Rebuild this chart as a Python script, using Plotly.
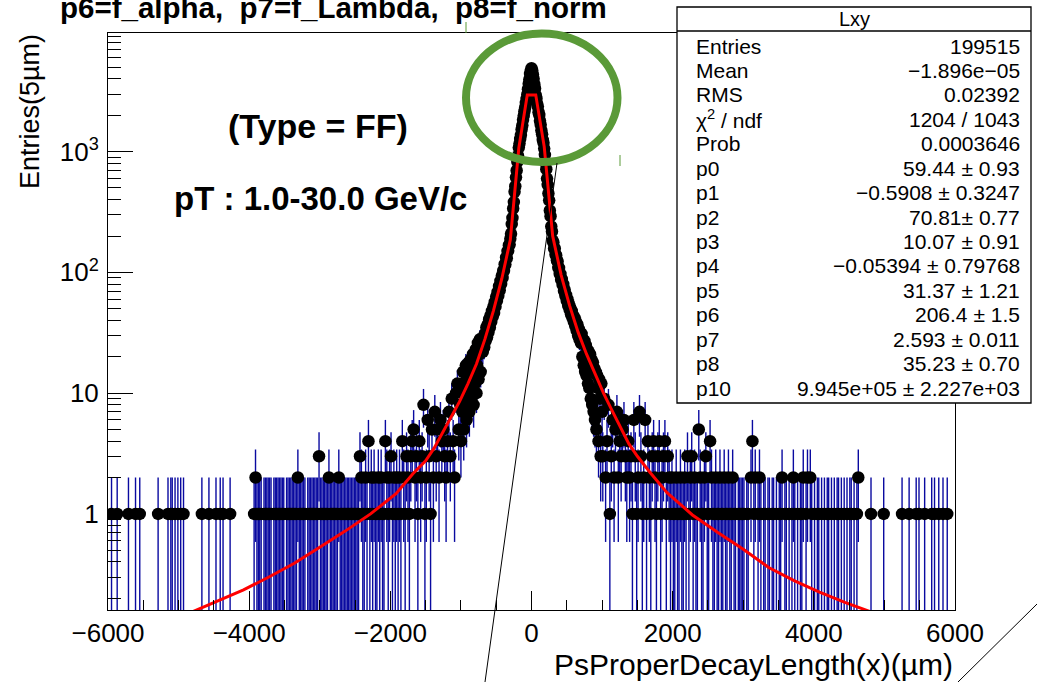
import numpy as np
import plotly.graph_objects as go

# ---------------- data ----------------
# core of the histogram: 10 um bins, centres from -1000 to +1000 um
core_start = -1000
core_step = 10
core_counts = [
    4, 12, 7, 15, 5, 10, 8, 17, 6, 13,
    9, 18, 7, 11, 19, 9, 14, 21, 8, 16,
    12, 23, 10, 17, 26, 13, 21, 28, 15, 22,
    28, 22, 29, 24, 31, 27, 35, 29, 37, 32,
    41, 35, 44, 39, 48, 43, 52, 46, 57, 52,
    63, 58, 69, 64, 77, 71, 85, 80, 94, 90,
    104, 103, 117, 116, 133, 131, 150, 151, 168, 170,
    190, 209, 251, 282, 338, 382, 465, 517, 612, 699,
    822, 925, 1080, 1165, 1272, 1370, 1525, 1648, 1835, 1985,
    2160, 2320, 2530, 2730, 2970, 3290, 3650, 3960, 4390, 4660,
    4900,
    4710, 4350, 4010, 3610, 3330, 2930, 2770, 2490, 2360, 2120,
    2010, 1800, 1670, 1495, 1390, 1250, 1185, 1060, 940, 805,
    716, 598, 531, 450, 395, 326, 292, 240, 218, 183,
    177, 158, 158, 141, 138, 126, 123, 109, 109, 97,
    97, 87, 88, 79, 80, 70, 72, 64, 65, 58,
    60, 53, 55, 49, 51, 45, 48, 42, 44, 39,
    42, 36, 39, 33, 37, 30, 34, 28, 32, 26,
    31, 20, 28, 17, 27, 15, 25, 14, 23, 12,
    22, 11, 21, 9, 19, 8, 18, 7, 16, 6,
    15, 5, 14, 11, 4, 13, 9, 3, 12, 7,
]

# tails: 20 um bins
tail_step = 20
left_tail_start = -5990
left_tail_counts = [
    0, 0, 1, 0, 0, 0, 1, 0, 0, 0,
    0, 0, 0, 0, 1, 0, 0, 0, 0, 1,
    0, 0, 1, 0, 0, 0, 0, 0, 0, 0,
    0, 0, 0, 0, 0, 1, 0, 0, 0, 0,
    0, 0, 1, 0, 1, 1, 0, 1, 0, 1,
    0, 1, 0, 1, 0, 0, 0, 0, 0, 0,
    0, 0, 0, 0, 0, 0, 1, 0, 0, 0,
    0, 1, 0, 0, 0, 0, 1, 0, 0, 1,
    0, 1, 0, 0, 0, 0, 1, 0, 0, 0,
    0, 0, 0, 0, 0, 0, 0, 0, 0, 0,
    0, 0, 0, 1, 2, 1, 1, 1, 1, 0,
    1, 1, 1, 1, 1, 1, 0, 1, 1, 1,
    1, 1, 1, 1, 1, 0, 1, 1, 1, 1,
    1, 1, 1, 1, 2, 1, 1, 1, 1, 1,
    0, 1, 1, 1, 1, 1, 1, 1, 1, 3,
    1, 1, 1, 1, 1, 1, 2, 1, 1, 1,
    1, 1, 1, 2, 1, 1, 1, 1, 1, 1,
    1, 1, 1, 1, 1, 1, 1, 1, 3, 2,
    1, 1, 2, 1, 4, 1, 2, 1, 2, 1,
    1, 2, 1, 2, 1, 1, 4, 2, 1, 2,
    3, 1, 2, 1, 2, 1, 2, 1, 4, 2,
    1, 3, 2, 1, 3, 4, 5, 2, 3, 1,
    4, 2, 3, 8, 1, 2, 6, 3, 1, 5,
    2, 7, 3, 5, 2, 6, 4, 5, 3, 2,
    4, 7, 3, 9, 4, 2, 10, 12, 5, 8,
]
right_tail_start = 1010
right_tail_counts = [
    3, 9, 2, 4, 8, 1, 3, 6, 2, 5,
    7, 2, 4, 3, 5, 6, 3, 2, 4, 2,
    3, 1, 6, 3, 1, 2, 7, 3, 1, 2,
    6, 1, 4, 2, 1, 3, 4, 2, 1, 3,
    4, 1, 2, 3, 4, 1, 3, 2, 1, 2,
    1, 1, 2, 1, 1, 2, 1, 1, 2, 1,
    3, 1, 2, 3, 1, 2, 1, 1, 5, 2,
    1, 1, 2, 3, 1, 1, 4, 2, 1, 1,
    2, 1, 1, 2, 1, 1, 2, 1, 1, 2,
    1, 1, 2, 1, 1, 0, 1, 1, 1, 1,
    1, 0, 1, 1, 0, 2, 4, 1, 2, 0,
    1, 2, 1, 0, 1, 1, 0, 1, 1, 0,
    1, 1, 0, 1, 0, 1, 1, 2, 0, 1,
    1, 0, 1, 0, 1, 2, 1, 0, 1, 0,
    1, 1, 2, 0, 1, 2, 0, 2, 1, 0,
    1, 0, 1, 1, 0, 1, 0, 1, 0, 1,
    1, 0, 1, 0, 1, 0, 1, 1, 0, 1,
    0, 1, 0, 1, 0, 1, 1, 0, 1, 0,
    1, 2, 0, 0, 0, 0, 0, 0, 0, 0,
    1, 0, 0, 0, 0, 0, 0, 0, 0, 1,
    0, 0, 0, 0, 0, 0, 0, 0, 0, 0,
    0, 0, 1, 0, 0, 0, 0, 1, 0, 0,
    0, 0, 1, 0, 1, 0, 0, 0, 1, 0,
    0, 0, 0, 1, 0, 1, 0, 0, 1, 0,
    0, 1, 0, 0, 1, 0, 0, 0, 0, 0,
]

fit_x = [-6000, -5400, -4800, -4440, -4080, -3720, -3360, -3000, -2640, -2280,
         -1920, -1680, -1500, -1380, -1260, -1140, -1020, -900, -780, -660,
         -540, -420, -300, -180, -60, 60, 180, 300, 420, 540,
         660, 780, 900, 1020, 1140, 1260, 1380, 1500, 1680, 1920,
         2280, 2640, 3000, 3360, 3720, 4080, 4440, 4800, 5400, 6000]
fit_y = [0.076, 0.107, 0.155, 0.19, 0.235, 0.30, 0.39, 0.53, 0.72, 1.0,
         1.47, 2.15, 2.75, 3.5, 4.7, 6.3, 8.5, 12.0, 17.4, 28,
         48, 89, 186, 1070, 2950, 2950, 1100, 200, 95, 53,
         32, 21, 14.5, 10, 7.2, 5.2, 3.8, 3.0, 2.2, 1.5,
         0.98, 0.70, 0.51, 0.36, 0.28, 0.225, 0.185, 0.155, 0.11, 0.078]

x_tick_vals = [-6000, -4000, -2000, 0, 2000, 4000, 6000]
y_tick_vals = [1, 10, 100, 1000]
y_tick_text = ["1", "10", "10<sup>2</sup>", "10<sup>3</sup>"]

stat_title = "Lxy"
stat_names = ["Entries", "Mean", "RMS", "χ<sup>2</sup> / ndf", "Prob",
              "p0", "p1", "p2", "p3", "p4", "p5", "p6", "p7", "p8", "p10"]
stat_values = ["199515", "−1.896e−05", "0.02392", "1204 / 1043", "0.0003646",
               "59.44 ± 0.93", "−0.5908 ± 0.3247", "70.81± 0.77", "10.07 ± 0.91",
               "−0.05394 ± 0.79768", "31.37 ± 1.21", "206.4 ± 1.5", "2.593 ± 0.011",
               "35.23 ± 0.70", "9.945e+05 ± 2.227e+03"]

title_text = "p6=f_alpha,\u00a0 p7=f_Lambda,\u00a0 p8=f_norm"
label_type = "(Type = FF)"
label_pt = "pT : 1.0-30.0 GeV/c"
x_title = "PsProperDecayLength(x)(µm)"
y_title = "Entries(5µm)"

# ---------------- assemble histogram ----------------
left_x = left_tail_start + tail_step * np.arange(len(left_tail_counts))
core_x = core_start + core_step * np.arange(len(core_counts))
right_x = right_tail_start + tail_step * np.arange(len(right_tail_counts))
hx = np.concatenate([left_x, core_x, right_x])
hc = list(left_tail_counts) + list(core_counts) + list(right_tail_counts)
hy = [c if c > 0 else None for c in hc]
he = [float(np.sqrt(c)) if c > 0 else None for c in hc]

# ---------------- layout geometry (pixels) ----------------
FW, FH = 1037, 682
L, R, T, B = 108, 955, 33, 610
PW, PH = R - L, B - T


def px(xp):
    return (xp - L) / PW


def py(yp):
    return (B - yp) / PH


FONT = "Liberation Sans, Arial, Helvetica, sans-serif"

fig = go.Figure()
fig.add_trace(go.Scatter(
    x=hx, y=hy, mode="markers",
    marker=dict(color="black", size=12.5, line=dict(width=0)),
    error_y=dict(type="data", array=he, visible=True, color="rgb(10,10,160)",
                 thickness=1.4, width=0),
    hoverinfo="skip", showlegend=False,
))
fig.add_trace(go.Scatter(
    x=fit_x, y=fit_y, mode="lines",
    line=dict(color="#ff0000", width=3),
    hoverinfo="skip", showlegend=False,
))

shapes = []
shapes.append(dict(type="circle", xref="paper", yref="paper",
                   x0=px(466), x1=px(617.5), y0=py(162), y1=py(33.5),
                   line=dict(color="#5a9a38", width=8), layer="above"))
shapes.append(dict(type="line", xref="paper", yref="paper",
                   x0=px(557), y0=py(163), x1=px(485), y1=py(682),
                   line=dict(color="black", width=1), layer="above"))
shapes.append(dict(type="line", xref="paper", yref="paper",
                   x0=px(958), y0=py(682), x1=px(1037), y1=py(604),
                   line=dict(color="black", width=1), layer="above"))
shapes.append(dict(type="line", xref="paper", yref="paper",
                   x0=px(466), y0=py(22), x1=px(466), y1=py(33),
                   line=dict(color="#5a9a38", width=1), layer="above"))
shapes.append(dict(type="line", xref="paper", yref="paper",
                   x0=px(620), y0=py(155), x1=px(620), y1=py(166),
                   line=dict(color="#5a9a38", width=1), layer="above"))
shapes.append(dict(type="rect", xref="paper", yref="paper",
                   x0=px(677), x1=px(1031), y0=py(403), y1=py(7),
                   fillcolor="white", line=dict(color="black", width=1.3),
                   layer="above"))
shapes.append(dict(type="line", xref="paper", yref="paper",
                   x0=px(677), x1=px(1031), y0=py(31), y1=py(31),
                   line=dict(color="black", width=1.3), layer="above"))


def note(text, x, y, xa, size, angle=0):
    return dict(text=text, x=px(x), y=py(y), xref="paper", yref="paper",
                xanchor=xa, yanchor="middle", showarrow=False, textangle=angle,
                font=dict(family=FONT, size=size, color="black"))


ann = []
ann.append(note("<b>%s</b>" % title_text, 58, 8, "left", 29.5))
ann.append(note("<b>%s</b>" % label_type, 318, 126, "center", 34))
ann.append(note("<b>%s</b>" % label_pt, 320, 198, "center", 33))
ann.append(note(x_title, 955, 664, "right", 30))
ann.append(note(y_title, 30, 112, "center", 27, -90))
ann.append(note(stat_title, 854, 19, "center", 20))
row0, drow = 46, 24.43
for i, (n, v) in enumerate(zip(stat_names, stat_values)):
    ann.append(note(n, 694, row0 + drow * i, "left", 21))
    ann.append(note(v, 1022, row0 + drow * i, "right", 21))

y_minor_vals = [m * 10.0 ** e for e in range(-1, 4) for m in range(2, 10)]

fig.update_layout(
    width=FW, height=FH,
    margin=dict(l=L, r=FW - R, t=T, b=FH - B, pad=0),
    paper_bgcolor="white", plot_bgcolor="white",
    showlegend=False, hovermode=False,
    shapes=shapes, annotations=ann,
    xaxis=dict(range=[-6000, 6000], tickmode="array", tickvals=x_tick_vals,
               ticks="inside", ticklen=19, tickwidth=1, tickcolor="black",
               minor=dict(dtick=500, tick0=-6000, ticks="inside", ticklen=10,
                          tickwidth=1, tickcolor="black"),
               showline=True, mirror=True, linecolor="black", linewidth=1,
               showgrid=False, zeroline=False, ticklabelstandoff=0,
               tickfont=dict(family=FONT, size=26, color="black")),
    yaxis=dict(type="log", range=[np.log10(0.16), np.log10(9600)],
               tickmode="array", tickvals=y_tick_vals, ticktext=y_tick_text,
               ticks="inside", ticklen=25, tickwidth=1, tickcolor="black",
               minor=dict(tickmode="array", tickvals=y_minor_vals, ticks="inside",
                          ticklen=13, tickwidth=1, tickcolor="black"),
               showline=True, mirror=True, linecolor="black", linewidth=1,
               showgrid=False, zeroline=False, ticklabelstandoff=3,
               tickfont=dict(family=FONT, size=26, color="black")),
)

fig.write_html("out.html")
